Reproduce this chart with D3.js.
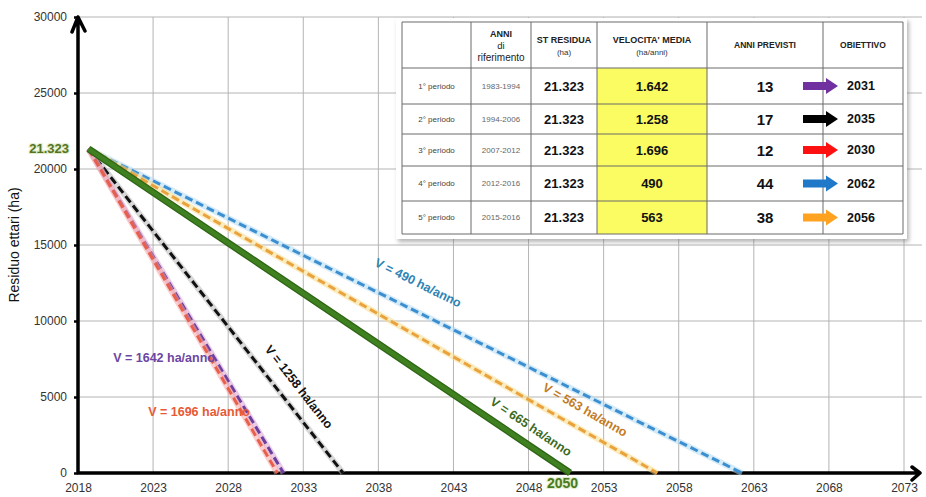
<!DOCTYPE html>
<html>
<head>
<meta charset="utf-8">
<script src="https://cdn.jsdelivr.net/npm/d3@7"></script>
<style>
  body { margin: 0; background: #fff; }
  svg { display: block; font-family: "Liberation Sans", Arial, sans-serif; }
</style>
</head>
<body>
<svg id="chart" width="926" height="497"></svg>
<script>
// ---- data ----
const periods      = ["1° periodo", "2° periodo", "3° periodo", "4° periodo", "5° periodo"];
const refYears     = ["1983-1994", "1994-2006", "2007-2012", "2012-2016", "2015-2016"];
const residuo      = 21323;            // ha still available
const residuoLabel = "21.323";
const velocities   = [1642, 1258, 1696, 490, 563];   // ha/anno
const velocityText = ["1.642", "1.258", "1.696", "490", "563"];
const anniPrevisti = [13, 17, 12, 44, 38];
const obiettivo    = [2031, 2035, 2030, 2062, 2056];
const targetRate   = 665;              // ha/anno needed to reach zero in 2050
const targetYear   = 2050;
const startYear    = 2018.7;           // where the projections begin
const xTicks = [2018, 2023, 2028, 2033, 2038, 2043, 2048, 2053, 2058, 2063, 2068, 2073];
const yTicks = [0, 5000, 10000, 15000, 20000, 25000, 30000];

// ---- styling per period ----
const lineColor  = ["#6a3f9e", "#111111", "#e8604c", "#3b8fd0", "#eaa23c"];
const glowColor  = ["#d8a0d0", "#b8b8b8", "#f6a8a8", "#b4dbf3", "#f8dc8c"];
const textColor  = ["#6b47a3", "#111111", "#e85a36", "#2f84b4", "#c27c24"];
const arrowColor = ["#7030a0", "#000000", "#ff1010", "#1f78c8", "#ffa21f"];
// label anchors in data units, for each period line
const labelAnchor = [
  { year: 2023.73, value: 7566, rotate: false },
  { year: 2032.7, value: 5650, rotate: true },
  { year: 2026.06, value: 4013, rotate: false },
  { year: 2040.64, value: 12500, rotate: true },
  { year: 2051.76, value: 4145, rotate: true }
];
const targetAnchor = { year: 2048.16, value: 3026 };

// ---- scales ----
const svg = d3.select("#chart");
const x = d3.scaleLinear().domain([2018, 2073]).range([78, 904]);
const y = d3.scaleLinear().domain([0, 30000]).range([473, 17]);

// drop shadow for the summary panel
const defs = svg.append("defs");
const sh = defs.append("filter").attr("id", "shadow").attr("x", "-5%").attr("y", "-5%").attr("width", "115%").attr("height", "120%");
sh.append("feDropShadow").attr("dx", 2).attr("dy", 3).attr("stdDeviation", 2).attr("flood-color", "#777").attr("flood-opacity", 0.55);

// ---- grid ----
const grid = svg.append("g").attr("stroke", "#b4b4b4").attr("stroke-width", 1);
grid.selectAll("line.v").data(xTicks.slice(1)).join("line")
  .attr("x1", d => x(d)).attr("x2", d => x(d))
  .attr("y1", y(0)).attr("y2", y(30000));
grid.selectAll("line.h").data(yTicks.slice(1)).join("line")
  .attr("x1", x(2018)).attr("x2", 922)
  .attr("y1", d => y(d)).attr("y2", d => y(d));

// ---- axes ----
const yAxis = svg.append("g").attr("transform", `translate(${x(2018)},0)`)
  .call(d3.axisLeft(y).tickValues(yTicks).tickSize(4).tickPadding(7).tickFormat(d3.format("d")));
yAxis.select(".domain").remove();
yAxis.selectAll(".tick line").attr("stroke", "#000").attr("stroke-width", 2.5);
yAxis.selectAll(".tick text").attr("font-size", 12).attr("fill", "#333")
  .attr("font-family", "\"Liberation Sans\", Arial, sans-serif");

const xAxis = svg.append("g").attr("transform", `translate(0,${y(0)})`)
  .call(d3.axisBottom(x).tickValues(xTicks).tickSize(0).tickPadding(10).tickFormat(d3.format("d")));
xAxis.select(".domain").remove();
xAxis.selectAll(".tick text").attr("font-size", 12).attr("fill", "#333")
  .attr("font-family", "\"Liberation Sans\", Arial, sans-serif");

const x0 = x(2018), yBase = y(0), yTop = y(30000), xEnd = x(2073) + 16;
svg.append("path")
  .attr("d", `M${x0},${yBase}V${yTop} M${x0 - 6},${yTop + 15}L${x0},${yTop}L${x0 + 7},${yTop + 14}
              M${x0},${yBase}H${xEnd} M${xEnd - 8},${yBase - 6}L${xEnd},${yBase}L${xEnd - 8},${yBase + 7}`)
  .attr("fill", "none").attr("stroke", "#000").attr("stroke-width", 3.5)
  .attr("stroke-linecap", "round").attr("stroke-linejoin", "round");

svg.append("text")
  .attr("transform", "translate(19,245) rotate(-90)")
  .attr("text-anchor", "middle").attr("font-size", 14).attr("fill", "#111")
  .text("Residuo ettari (ha)");

// ---- projection lines ----
const proj = v => [[startYear, residuo], [startYear + residuo / v, 0]];
const line = d3.line().x(d => x(d[0])).y(d => y(d[1]));
const drawOrder = [3, 4, 1, 0, 2];

const lines = svg.append("g").attr("fill", "none").attr("stroke-linecap", "butt");
drawOrder.forEach(i => {
  const pts = proj(velocities[i]);
  lines.append("path").attr("d", line(pts))
    .attr("stroke", glowColor[i]).attr("stroke-width", 6).attr("stroke-opacity", 0.55);
  lines.append("path").attr("d", line(pts))
    .attr("stroke", lineColor[i]).attr("stroke-width", 3).attr("stroke-dasharray", "8,4");
});
const targetPts = proj(targetRate);
lines.append("path").attr("d", line(targetPts))
  .attr("stroke", "#2e6414").attr("stroke-width", 7);
lines.append("path").attr("d", line(targetPts))
  .attr("stroke", "#3f8020").attr("stroke-width", 4.5);

// slope angle in screen space for a given rate
const angleOf = v => {
  const p = proj(v);
  return Math.atan2(y(p[1][1]) - y(p[0][1]), x(p[1][0]) - x(p[0][0])) * 180 / Math.PI;
};

const labels = svg.append("g").attr("font-size", 12.5).attr("font-weight", "bold")
  .attr("text-anchor", "middle").attr("dominant-baseline", "central");
velocities.forEach((v, i) => {
  const a = labelAnchor[i];
  labels.append("text")
    .attr("transform", `translate(${x(a.year)},${y(a.value)}) rotate(${a.rotate ? angleOf(v) : 0})`)
    .attr("fill", textColor[i])
    .text(`V = ${v} ha/anno`);
});
labels.append("text")
  .attr("transform", `translate(${x(targetAnchor.year)},${y(targetAnchor.value)}) rotate(${angleOf(targetRate)})`)
  .attr("fill", "#3b6a1c")
  .text(`V = ${targetRate} ha/anno`);

// start value and target year, with a soft light-green halo
svg.append("text")
  .attr("x", 69).attr("y", y(residuo)).attr("dy", "0.35em")
  .attr("text-anchor", "end").attr("font-size", 13).attr("font-weight", "bold")
  .attr("fill", "#557326").attr("stroke", "#e2eecb").attr("stroke-width", 2.2)
  .attr("paint-order", "stroke").text(residuoLabel);
svg.append("text")
  .attr("x", x(targetYear) + 4).attr("y", y(0) + 15)
  .attr("text-anchor", "middle").attr("font-size", 14).attr("font-weight", "bold")
  .attr("fill", "#4a7a20").attr("stroke", "#e2eecb").attr("stroke-width", 2.2)
  .attr("paint-order", "stroke").text(targetYear);

// ---- summary table ----
const colEdges = [402, 471, 531, 597, 707, 823, 903];
const rowEdges = [22, 68, 104, 134, 166, 201, 234];
const cx = c => (colEdges[c] + colEdges[c + 1]) / 2;
const cy = r => (rowEdges[r] + rowEdges[r + 1]) / 2;

const tbl = svg.append("g");
tbl.append("rect").attr("x", 396).attr("y", 18).attr("width", 511).attr("height", 221)
  .attr("fill", "#fff").attr("filter", "url(#shadow)");
// yellow velocity column
tbl.append("rect")
  .attr("x", colEdges[3]).attr("y", rowEdges[1])
  .attr("width", colEdges[4] - colEdges[3]).attr("height", rowEdges[6] - rowEdges[1])
  .attr("fill", "#fbfb62");
// cell borders
const tg = tbl.append("g").attr("stroke", "#6a6a6a").attr("stroke-width", 1);
colEdges.forEach(c => tg.append("line").attr("x1", c).attr("x2", c)
  .attr("y1", rowEdges[0]).attr("y2", rowEdges[6]));
rowEdges.forEach(r => tg.append("line").attr("x1", colEdges[0]).attr("x2", colEdges[6])
  .attr("y1", r).attr("y2", r));

const txt = (xx, yy, s, size, weight, fill) => tbl.append("text")
  .attr("x", xx).attr("y", yy).attr("text-anchor", "middle").attr("dominant-baseline", "central")
  .attr("font-size", size).attr("font-weight", weight).attr("fill", fill).text(s);

// header
txt(cx(1), 34, "ANNI", 9, "bold", "#222");
txt(cx(1), 45, "di", 9.5, "normal", "#222");
txt(cx(1), 57, "riferimento", 10, "normal", "#222");
txt(cx(2), 40, "ST RESIDUA", 9, "bold", "#222");
txt(cx(2), 52, "(ha)", 8, "normal", "#333");
txt(cx(3), 40, "VELOCITA' MEDIA", 9, "bold", "#222");
txt(cx(3), 52, "(ha/anni)", 8, "normal", "#333");
txt(cx(4), 45, "ANNI PREVISTI", 8.5, "bold", "#222");
txt(cx(5), 45, "OBIETTIVO", 8.5, "bold", "#222");

// rows
periods.forEach((p, i) => {
  const r = i + 1, yy = cy(r);
  txt(cx(0), yy, p, 8, "normal", "#444");
  txt(cx(1), yy, refYears[i], 8, "normal", "#666");
  txt(cx(2), yy, residuoLabel, 13, "bold", "#111");
  txt(cx(3), yy, velocityText[i], 13, "bold", "#111");
  txt(cx(4), yy, anniPrevisti[i], 15, "bold", "#111");
  txt(861, yy, obiettivo[i], 12.5, "bold", "#111");
  // block arrow pointing to the target year
  const ax = 803, len = 35, shaft = 23;
  tbl.append("path")
    .attr("d", `M${ax},${yy - 4}H${ax + shaft}V${yy - 8}L${ax + len},${yy}L${ax + shaft},${yy + 8}V${yy + 4}H${ax}Z`)
    .attr("fill", arrowColor[i]);
});
</script>
</body>
</html>
